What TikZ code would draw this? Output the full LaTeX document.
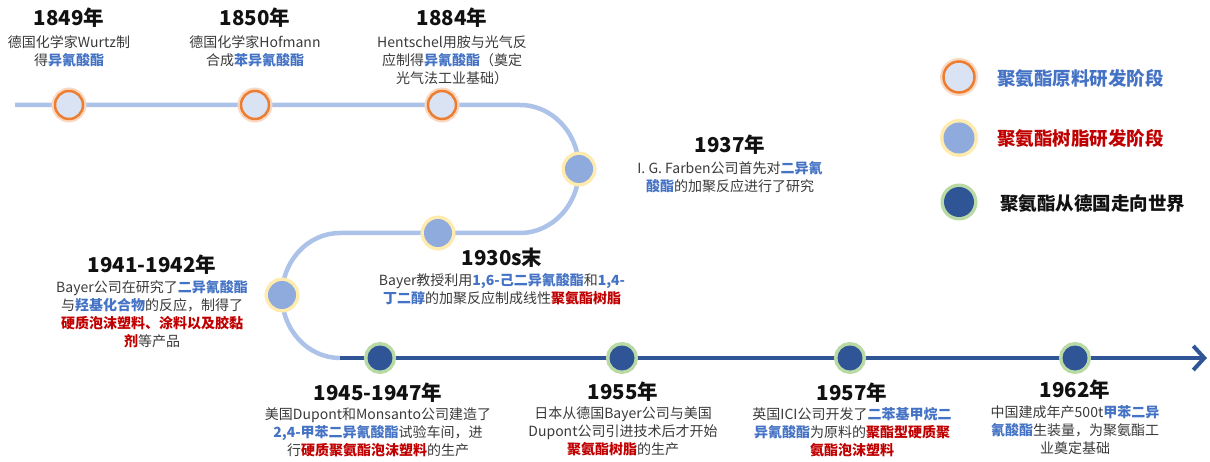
\documentclass[tikz,border=0pt]{standalone}
\usepackage{fontspec}
\setmainfont{Noto Sans CJK SC}
\usetikzlibrary{arrows.meta}
\definecolor{lightblue}{HTML}{ADC2E8}
\definecolor{darkblue}{HTML}{2F5597}
\definecolor{rawfill}{HTML}{DAE3F3}
\definecolor{orangeA}{HTML}{ED7D31}
\definecolor{resinfill}{HTML}{8FAADC}
\definecolor{haloY}{HTML}{FFE699}
\definecolor{haloG}{HTML}{A9D18E}
\definecolor{hlblue}{HTML}{4472C4}
\definecolor{hlred}{HTML}{C00000}
\definecolor{descc}{HTML}{3A3A3A}
\definecolor{headc}{HTML}{111111}
\newcommand\bluet[1]{{\bfseries\color{hlblue}#1}}
\newcommand\redt[1]{{\bfseries\color{hlred}#1}}
\tikzset{
  lightline/.style={line width=4.5pt, draw=lightblue},
  darkline/.style={line width=4.5pt, draw=darkblue},
  rawpt/.style={circle, minimum size=28pt, inner sep=0pt, fill=rawfill, draw=orangeA, line width=2.5pt,
    preaction={draw=orangeA!30, line width=7pt}},
  resinpt/.style={circle, minimum size=28pt, inner sep=0pt, fill=resinfill, draw=none,
    preaction={draw=haloY!80, line width=7pt}},
  worldpt/.style={circle, minimum size=25pt, inner sep=0pt, fill=darkblue, draw=none,
    preaction={draw=haloG!80, line width=7pt}},
  yr/.style={font=\fontsize{20.5}{24}\selectfont\bfseries, text=headc, inner sep=0pt, anchor=center},
  desc/.style={font=\fontsize{14}{18}\selectfont, text=descc, align=center, inner sep=0pt, anchor=north},
  leg/.style={font=\fontsize{18.5}{22}\selectfont\bfseries, anchor=west, inner sep=0pt},
}
\begin{document}
\begin{tikzpicture}[x=1pt,y=-1pt]
\useasboundingbox (0,0) rectangle (1210,462);
% path coordinates
\coordinate (p0) at (15,105);
\coordinate (p1) at (520,105);
\coordinate (p2) at (579,169);
\coordinate (p3) at (520,233);
\coordinate (p4) at (340,233);
\coordinate (p5) at (282,295.5);
\coordinate (p6) at (340,358);
\coordinate (p7) at (1207,358);
\draw[lightline] (p0) -- (p1) .. controls +(32.6,0) and +(0,-35.3) .. (p2)
  .. controls +(0,35.3) and +(32.6,0) .. (p3) -- (p4)
  .. controls +(-32,0) and +(0,-34.5) .. (p5)
  .. controls +(0,34.5) and +(-32,0) .. (p6);
\draw[darkline, -{Straight Barb[length=11pt, width=24pt, line width=4pt]}] (p6) -- (p7);
% timeline points
\node[rawpt] (n1849) at (69,105) {};
\node[rawpt] (n1850) at (255,105) {};
\node[rawpt] (n1884) at (442,105) {};
\node[resinpt] (n1937) at (579,169) {};
\node[resinpt] (n1930) at (438,233) {};
\node[resinpt] (n1941) at (282,295) {};
\node[worldpt] (n1945) at (380,358) {};
\node[worldpt] (n1955) at (622,358) {};
\node[worldpt] (n1957) at (850,358) {};
\node[worldpt] (n1962) at (1075,358) {};
% headings
\node[yr] (h1849) at (69,18) {1849年};
\node[yr] (h1850) at (255,18) {1850年};
\node[yr] (h1884) at (452,18) {1884年};
\node[yr] (h1937) at (730,145) {1937年};
\node[yr] (h1930) at (502,258) {1930s末};
\node[yr] (h1941) at (152,265) {1941-1942年};
\node[yr] (h1945) at (378,393) {1945-1947年};
\node[yr] (h1955) at (623,392) {1955年};
\node[yr] (h1957) at (852,393) {1957年};
\node[yr] (h1962) at (1075,390) {1962年};
% descriptions
\node[desc] (d1849) at (69,35.5) {德国化学家Wurtz制\\得\bluet{异氰酸酯}};
\node[desc] (d1850) at (255,35.5) {德国化学家Hofmann\\合成\bluet{苯异氰酸酯}};
\node[desc] (d1884) at (452,35.5) {Hentschel用胺与光气反\\应制得\bluet{异氰酸酯}（奠定\\光气法工业基础）};
\node[desc] (d1937) at (730,161.5) {I. G. Farben公司首先对\bluet{二异氰}\\\bluet{酸酯}的加聚反应进行了研究};
\node[desc] (d1930) at (502,273.5) {Bayer教授利用\bluet{1,6-己二异氰酸酯}和\bluet{1,4-}\\\bluet{丁二醇}的加聚反应制成线性\redt{聚氨酯树脂}};
\node[desc] (d1941) at (152,280.5) {Bayer公司在研究了\bluet{二异氰酸酯}\\与\bluet{羟基化合物}的反应，制得了\\\redt{硬质泡沫塑料、涂料以及胶黏}\\\redt{剂}等产品};
\node[desc] (d1945) at (378,407.5) {美国Dupont和Monsanto公司建造了\\\bluet{2,4-甲苯二异氰酸酯}试验车间，进\\行\redt{硬质聚氨酯泡沫塑料}的生产};
\node[desc] (d1955) at (623,406.5) {日本从德国Bayer公司与美国\\Dupont公司引进技术后才开始\\\redt{聚氨酯树脂}的生产};
\node[desc] (d1957) at (852,407.5) {英国ICI公司开发了\bluet{二苯基甲烷二}\\\bluet{异氰酸酯}为原料的\redt{聚酯型硬质聚}\\\redt{氨酯泡沫塑料}};
\node[desc] (d1962) at (1075,405.5) {中国建成年产500t\bluet{甲苯二异}\\\bluet{氰酸酯}生装量，为聚氨酯工\\业奠定基础};
% legend
\node[rawpt, minimum size=31pt] (l1) at (959,77) {};
\node[resinpt, minimum size=31pt] (l2) at (959,138) {};
\node[worldpt, minimum size=30pt] (l3) at (959,202) {};
\node[leg, text=hlblue] (t1) at (997,78) {聚氨酯原料研发阶段};
\node[leg, text=hlred] (t2) at (997,138) {聚氨酯树脂研发阶段};
\node[leg, text=headc] (t3) at (1000,203) {聚氨酯从德国走向世界};
\end{tikzpicture}
\end{document}
